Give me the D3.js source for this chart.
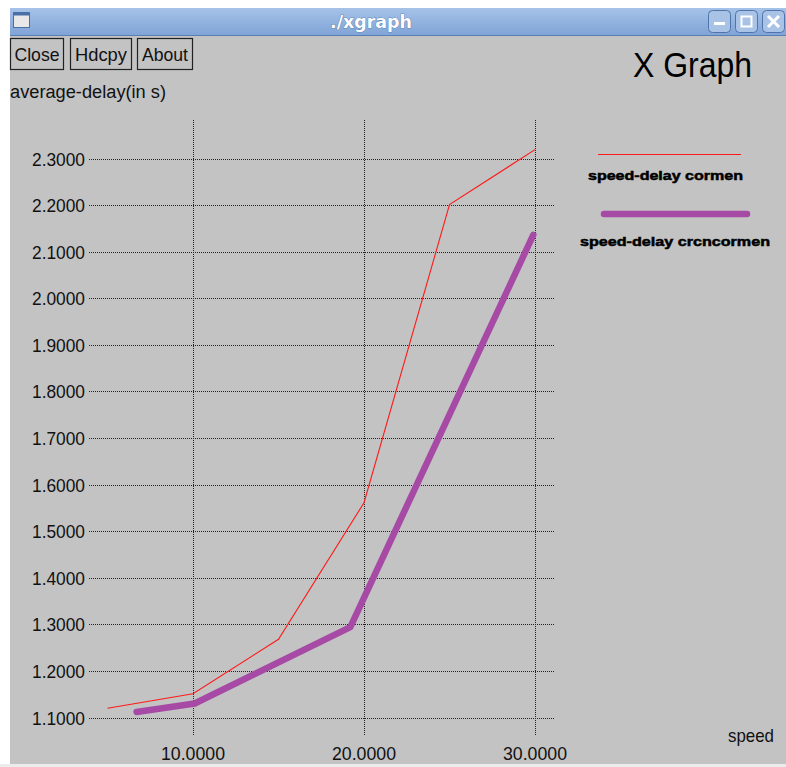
<!DOCTYPE html>
<html>
<head>
<meta charset="utf-8">
<script src="https://cdn.jsdelivr.net/npm/d3@7"></script>
<style>
  html, body { margin: 0; padding: 0; background: #fff; overflow: hidden; }
  svg { display: block; }
  text { font-family: "Liberation Sans", Arial, sans-serif; }
</style>
</head>
<body>
<div id="chart"></div>
<script>
// Series
const cormenX = [5, 10, 15, 20, 25, 30];
const cormenY = [1.12, 1.151, 1.268, 1.561, 2.201, 2.319];
const crcnX = [6.7, 10.1, 19.2, 29.9];
const crcnY = [1.112, 1.13, 1.294, 2.136];

const xTicks = [10, 20, 30];
const yTicks = [1.1, 1.2, 1.3, 1.4, 1.5, 1.6, 1.7, 1.8, 1.9, 2.0, 2.1, 2.2, 2.3];
const buttons = ["Close", "Hdcpy", "About"];
const seriesNames = ["speed-delay cormen", "speed-delay crcncormen"];

const W = 786, H = 767;

const svg = d3.select("#chart").append("svg").attr("width", W).attr("height", H);

// narrow-looking text: tall glyphs squeezed to the measured width
function narrowText(sel, size, len) {
  return sel.style("font-size", size + "px").attr("textLength", len).attr("lengthAdjust", "spacingAndGlyphs");
}

// window frame
const grad = svg.append("defs").append("linearGradient")
  .attr("id", "tb").attr("x1", 0).attr("y1", 0).attr("x2", 0).attr("y2", 1);
grad.append("stop").attr("offset", "0%").attr("stop-color", "#a6c2e8");
grad.append("stop").attr("offset", "100%").attr("stop-color", "#7ea3d6");

svg.append("rect").attr("x", 10).attr("y", 8).attr("width", W - 10).attr("height", 28).attr("fill", "url(#tb)");
svg.append("line").attr("x1", 10).attr("x2", W).attr("y1", 35.5).attr("y2", 35.5).attr("stroke", "#5a7fb5");
svg.append("rect").attr("x", 10).attr("y", 36).attr("width", W - 10).attr("height", 728).attr("fill", "#c3c3c3");
svg.append("rect").attr("x", 0).attr("y", 764).attr("width", W).attr("height", 3).attr("fill", "#ececec");

// title bar icon
svg.append("rect").attr("x", 13.5).attr("y", 12.5).attr("width", 16).attr("height", 15)
  .attr("fill", "#e8e8e8").attr("stroke", "#4a6fa8");
svg.append("rect").attr("x", 13.5).attr("y", 12.5).attr("width", 16).attr("height", 3).attr("fill", "#4a6fa8");

svg.append("text").attr("x", 371).attr("y", 28).attr("text-anchor", "middle")
  .style("font-family", "'DejaVu Sans Condensed', 'DejaVu Sans', sans-serif")
  .style("font-weight", "bold").style("font-size", "18px")
  .attr("textLength", 82).attr("lengthAdjust", "spacingAndGlyphs")
  .attr("fill", "#fff").attr("stroke", "#3d5f94").attr("stroke-width", 0.6)
  .attr("paint-order", "stroke").text("./xgraph");

// window buttons
const wb = [708, 735, 762];
wb.forEach((x, i) => {
  svg.append("rect").attr("x", x + 0.5).attr("y", 10.5).attr("width", 22).attr("height", 22).attr("rx", 4)
    .attr("fill", "#a9c3e6").attr("stroke", "#4f73ab");
  if (i === 0) {
    svg.append("rect").attr("x", x + 6).attr("y", 22).attr("width", 11).attr("height", 3).attr("fill", "#fff");
  } else if (i === 1) {
    svg.append("rect").attr("x", x + 6.5).attr("y", 16.5).attr("width", 10).attr("height", 10)
      .attr("fill", "none").attr("stroke", "#fff").attr("stroke-width", 2);
  } else {
    svg.append("path").attr("d", `M${x + 6},${16} L${x + 17},${27} M${x + 17},${16} L${x + 6},${27}`)
      .attr("stroke", "#fff").attr("stroke-width", 3);
  }
});

// xgraph buttons
const btnX = [10, 70, 137];
const btnW = [54, 62, 56];
const btnTextW = [45, 52, 46];
buttons.forEach((b, i) => {
  svg.append("rect").attr("x", btnX[i] + 0.5).attr("y", 38.5).attr("width", btnW[i] - 1).attr("height", 31)
    .attr("fill", "#c3c3c3").attr("stroke", "#222").attr("stroke-width", 1.2);
  narrowText(svg.append("text").attr("x", btnX[i] + btnW[i] / 2).attr("y", 61).attr("text-anchor", "middle")
    .attr("fill", "#111").text(b), 19, btnTextW[i]);
});

narrowText(svg.append("text").attr("x", 10).attr("y", 98).attr("fill", "#111")
  .text("average-delay(in s)"), 18, 156);
narrowText(svg.append("text").attr("x", 633).attr("y", 77).attr("fill", "#000")
  .text("X Graph"), 35, 119);

// scales
const x = d3.scaleLinear().domain([10, 30]).range([193, 535]);
const y = d3.scaleLinear().domain([1.1, 2.3]).range([717.5, 158.5]);

const gridX0 = 89, gridX1 = 555, gridY0 = 120, gridY1 = 736;

// grid
svg.append("g").selectAll("line").data(yTicks).join("line")
  .attr("x1", gridX0).attr("x2", gridX1)
  .attr("y1", d => Math.round(y(d)) + 0.5).attr("y2", d => Math.round(y(d)) + 0.5)
  .attr("stroke", "#222").attr("stroke-dasharray", "1,1");
svg.append("g").selectAll("line").data(xTicks).join("line")
  .attr("y1", gridY0).attr("y2", gridY1)
  .attr("x1", d => Math.round(x(d)) + 0.5).attr("x2", d => Math.round(x(d)) + 0.5)
  .attr("stroke", "#222").attr("stroke-dasharray", "1,1");

// tick labels
const fmt = d3.format(".4f");
narrowText(svg.append("g").selectAll("text").data(yTicks).join("text")
  .attr("x", 85).attr("y", d => y(d) + 7).attr("text-anchor", "end")
  .attr("fill", "#111").text(d => fmt(d)), 19, 53);
narrowText(svg.append("g").selectAll("text").data(xTicks).join("text")
  .attr("x", d => x(d)).attr("y", 760).attr("text-anchor", "middle")
  .attr("fill", "#111").text(d => fmt(d)), 19, 64);

// x axis name, kept inside the right edge
narrowText(svg.append("text").attr("x", 728).attr("y", 742).attr("fill", "#111").text("speed"), 19, 46);

// series
const line = d3.line().x(d => x(d[0])).y(d => y(d[1]));
const cormen = d3.zip(cormenX, cormenY);
const crcn = d3.zip(crcnX, crcnY);

svg.append("path").datum(crcn).attr("d", line).attr("fill", "none")
  .attr("stroke", "#a64aa6").attr("stroke-width", 6.5)
  .attr("stroke-linecap", "round").attr("stroke-linejoin", "round");
svg.append("path").datum(cormen).attr("d", line).attr("fill", "none")
  .attr("stroke", "#ff1a1a").attr("stroke-width", 1.1);

// legend
svg.append("line").attr("x1", 598).attr("x2", 741).attr("y1", 154.5).attr("y2", 154.5)
  .attr("stroke", "#ff1a1a").attr("stroke-width", 1.1);
svg.append("line").attr("x1", 604).attr("x2", 747).attr("y1", 214).attr("y2", 214)
  .attr("stroke", "#a64aa6").attr("stroke-width", 6.5).attr("stroke-linecap", "round");
const legendText = [{ x: 588, y: 180, w: 155 }, { x: 580, y: 246, w: 190 }];
seriesNames.forEach((n, i) => {
  svg.append("text").attr("x", legendText[i].x).attr("y", legendText[i].y)
    .style("font-weight", "bold").style("font-size", "13px").attr("fill", "#000")
    .attr("stroke", "#000").attr("stroke-width", 0.5)
    .attr("textLength", legendText[i].w).attr("lengthAdjust", "spacingAndGlyphs").text(n);
});
</script>
</body>
</html>
